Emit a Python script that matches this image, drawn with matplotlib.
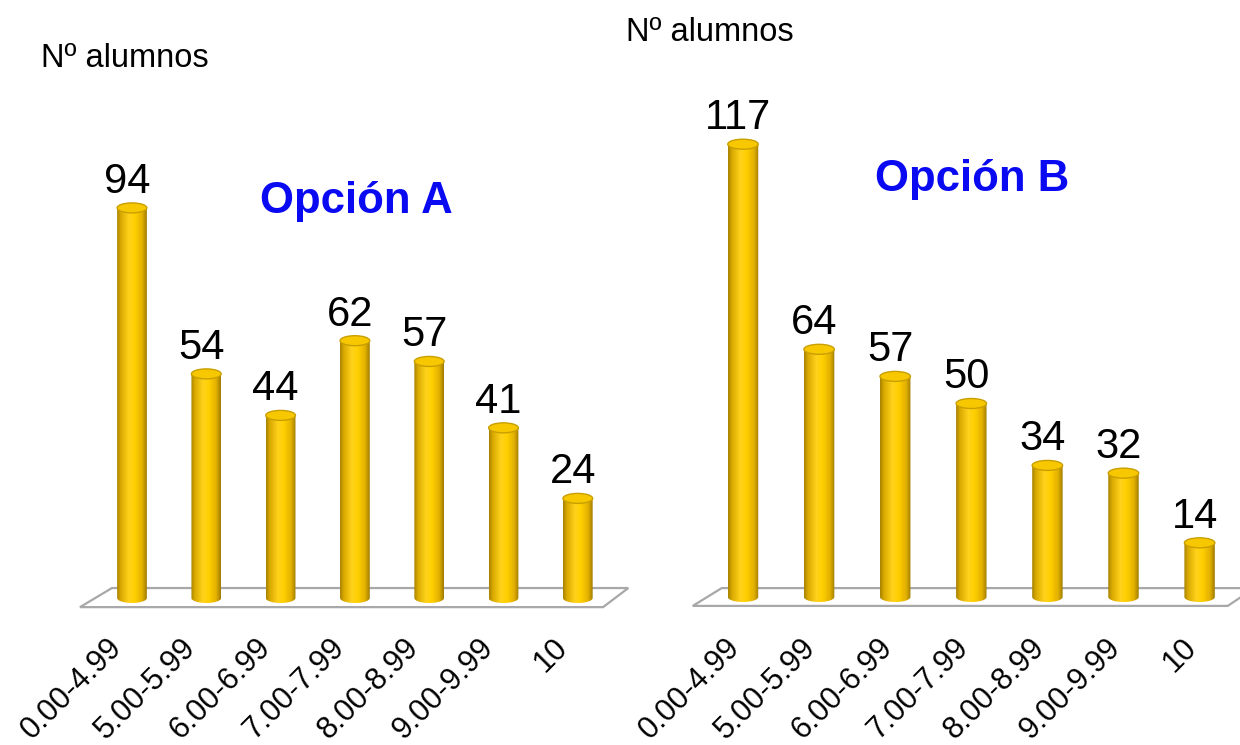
import numpy as np
import matplotlib
matplotlib.use("Agg")
import matplotlib.pyplot as plt
from matplotlib.patches import Ellipse, Polygon, PathPatch
from matplotlib.path import Path
from matplotlib.colors import LinearSegmentedColormap

plt.rcParams['font.family'] = ['Liberation Sans', 'DejaVu Sans']

# ---- data ----
categories = ["0.00-4.99", "5.00-5.99", "6.00-6.99", "7.00-7.99",
              "8.00-8.99", "9.00-9.99", "10"]
alumnos_a = [94, 54, 44, 62, 57, 41, 24]
alumnos_b = [117, 64, 57, 50, 34, 32, 14]
y_label = "Nº alumnos"
title_a = "Opción A"
title_b = "Opción B"

# ---- figure ----
W, H = 1240, 745
fig = plt.figure(figsize=(W / 100, H / 100), dpi=100)

cyl_cmap = LinearSegmentedColormap.from_list(
    "cyl", [(0.00, "#A88300"), (0.12, "#D9A900"), (0.40, "#FFD21C"),
            (0.60, "#FFD000"), (0.85, "#E2B000"), (1.00, "#A07C00")])
grad = np.linspace(0, 1, 64).reshape(1, -1)


def make_axes(c0, step, base, k, lo, hi):
    """Axes whose data units map to a fixed pixel grid."""
    left = c0 - step
    bottom_px = base - lo * k
    rect = [left / W, (H - bottom_px) / H, 8 * step / W, (hi - lo) * k / H]
    ax = fig.add_axes(rect)
    ax.set_xlim(-1, 7)
    ax.set_ylim(lo, hi)
    ax.axis("off")
    return ax


def draw_panel(ax, values, title, title_xy, floor, k, label_dy, label_dx,
               bar_w=0.40, ell_px=10):
    ell_h = ell_px / k
    ax.add_patch(Polygon(floor, closed=True, facecolor="white",
                         edgecolor="#A8A8A8", lw=1.6, zorder=1))
    x = np.arange(len(values))
    bars = ax.bar(x, values, width=bar_w, color="none", zorder=2)
    t = np.linspace(np.pi, 2 * np.pi, 40)
    for rect, v in zip(bars, values):
        x0 = rect.get_x()
        w = rect.get_width()
        xc = x0 + w / 2
        h = rect.get_height()
        verts = [(x0, h), (x0, 0)]
        verts += list(zip(xc + w / 2 * np.cos(t), ell_h / 2 * np.sin(t)))
        verts += [(x0 + w, h), (x0, h)]
        body = PathPatch(Path(verts), facecolor="none", edgecolor="none")
        ax.add_patch(body)
        im = ax.imshow(grad, extent=[x0, x0 + w, -ell_h / 2, h],
                       aspect="auto", cmap=cyl_cmap, zorder=3,
                       interpolation="bilinear")
        im.set_clip_path(body)
        ax.add_patch(Ellipse((xc, h), w, ell_h, facecolor="#F7C800",
                             edgecolor="#C99F00", lw=1.0, zorder=4))
        ax.annotate(f"{v}", xy=(xc, h), xytext=(-5, 15),
                    textcoords="offset pixels", ha="center", va="baseline",
                    fontsize=30, color="black", zorder=5)
    for i, cat in enumerate(categories):
        ax.text(i + label_dx, label_dy, cat, rotation=45,
                rotation_mode="anchor", ha="right", va="center",
                fontsize=22, color="black", clip_on=False)
    ax.text(title_xy[0], title_xy[1], title, ha="center", va="baseline",
            fontsize=31.5, fontweight="bold", color="#0A0AF2")
    ax.set_xlim(-1, 7)


# left panel: Opción A
kA = 4.15
axA = make_axes(c0=132, step=74.3, base=598, k=kA, lo=-5, hi=125)
floorA = [(-0.70, -2.2), (6.34, -2.2), (6.68, 2.4), (-0.27, 2.4)]
draw_panel(axA, alumnos_a, title_a, (3.02, 92.8), floorA, kA,
           label_dy=(598 - 643) / kA, label_dx=-0.20)
axA.set_ylim(-5, 125)

# right panel: Opción B
kB = 3.87
axB = make_axes(c0=743, step=76.1, base=597, k=kB, lo=-5, hi=130)
floorB = [(-0.66, -2.3), (6.37, -2.3), (6.72, 2.3), (-0.28, 2.3)]
draw_panel(axB, alumnos_b, title_b, (3.01, 105.0), floorB, kB,
           label_dy=(597 - 643) / kB, label_dx=-0.10)
axB.set_ylim(-5, 130)

# axis captions
fig.text(41 / W, (H - 67) / H, y_label, fontsize=23.5, ha="left",
         va="baseline")
fig.text(626 / W, (H - 41) / H, y_label, fontsize=23.5, ha="left",
         va="baseline")

fig.savefig("out.png", dpi=100, facecolor="white")
